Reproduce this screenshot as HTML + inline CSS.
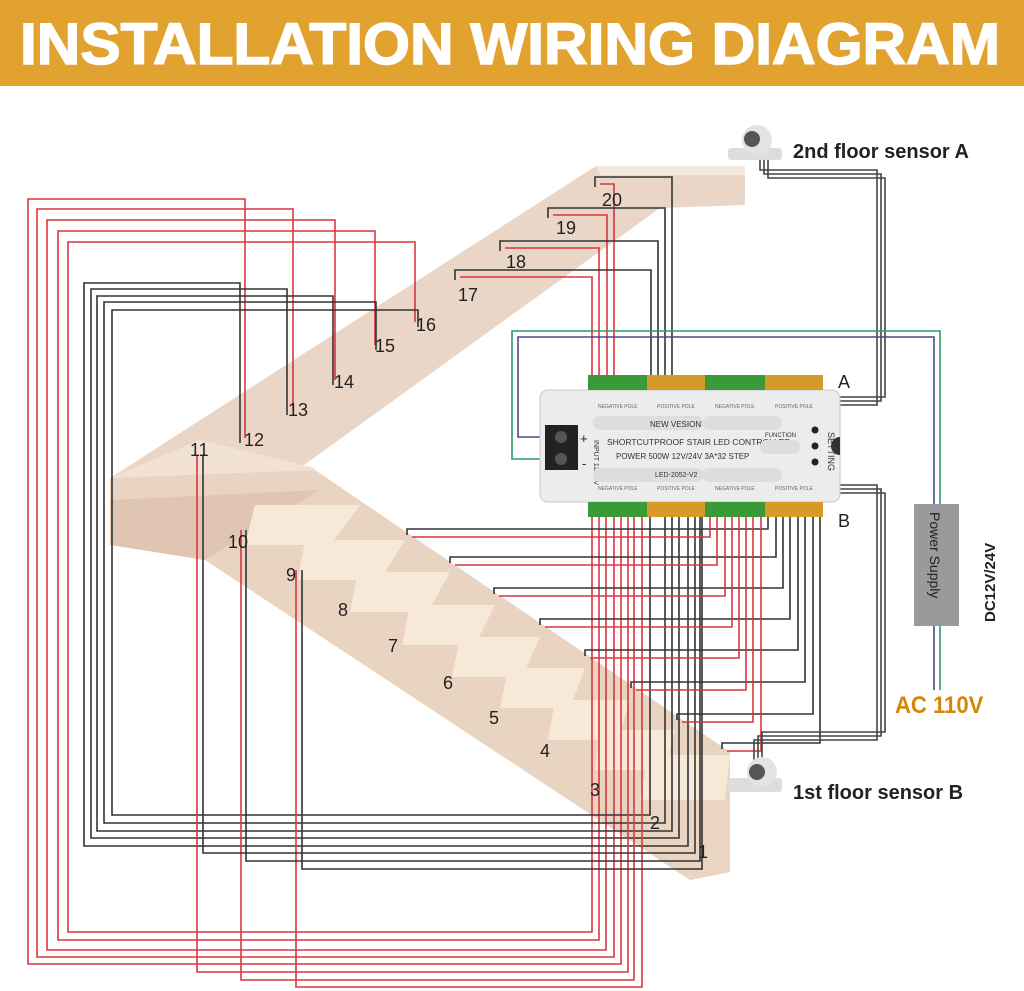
<!DOCTYPE html>
<html><head><meta charset="utf-8"><style>
html,body{margin:0;padding:0;background:#fff;width:1024px;height:991px;overflow:hidden}
svg{display:block}
</style></head><body>
<svg width="1024" height="991" viewBox="0 0 1024 991" xmlns="http://www.w3.org/2000/svg" font-family="Liberation Sans, sans-serif">
<rect x="0" y="0" width="1024" height="86" fill="#e2a230"/>
<text x="20" y="64" font-size="58" font-weight="bold" fill="#fff" textLength="980" lengthAdjust="spacingAndGlyphs" stroke="#fff" stroke-width="1.5">INSTALLATION WIRING DIAGRAM</text>

<!-- staircase -->
<g>
<polygon points="110,478 596,166 745,166 745,205 660,208 300,468 110,545" fill="#ead6c6"/>
<polygon points="596,166 745,166 745,175 600,175" fill="#f3e8de"/>
<polygon points="110,478 200,440 315,468 315,478 110,490" fill="#f1e2d4"/>
<polygon points="110,478 315,470 730,752 730,872 690,880 205,560 110,545" fill="#e9d3c1"/>
<polygon points="205,560 110,545 110,500 320,490" fill="#e0c6b2"/>
<g fill="#f6e9d8">
<polygon points="255,505 360,505 330,545 245,545"/>
<polygon points="305,540 405,540 380,580 298,580"/>
<polygon points="358,572 450,572 428,612 350,612"/>
<polygon points="410,605 495,605 475,645 402,645"/>
<polygon points="460,637 540,637 522,677 452,677"/>
<polygon points="508,668 585,668 570,708 500,708"/>
<polygon points="555,700 630,700 618,740 548,740"/>
<polygon points="600,730 675,730 665,770 595,770"/>
<polygon points="648,755 730,755 725,800 640,800"/>
</g>
<polygon points="640,800 730,800 730,872 690,880 620,820" fill="#ead5c2"/>
</g>

<g id="wires" fill="none" stroke-width="1.6"></g>

<!-- controller -->
<g>
<rect x="540" y="390" width="300" height="112" rx="8" fill="#ececec" stroke="#c8c8c8"/>
<rect x="545" y="425" width="33" height="45" fill="#222"/>
<circle cx="561" cy="437" r="6" fill="#555"/><circle cx="561" cy="459" r="6" fill="#555"/>
<text x="580" y="443" font-size="13" fill="#222">+</text>
<text x="582" y="468" font-size="13" fill="#222">-</text>
<text x="594" y="440" font-size="7" fill="#333" transform="rotate(90 594 440)">INPUT 12/24V</text>
<rect x="588" y="375" width="59" height="15" fill="#3a9a3a"/><rect x="647" y="375" width="58" height="15" fill="#d49a2a"/>
<rect x="705" y="375" width="60" height="15" fill="#3a9a3a"/><rect x="765" y="375" width="58" height="15" fill="#d49a2a"/>
<rect x="588" y="502" width="59" height="15" fill="#3a9a3a"/><rect x="647" y="502" width="58" height="15" fill="#d49a2a"/>
<rect x="705" y="502" width="60" height="15" fill="#3a9a3a"/><rect x="765" y="502" width="58" height="15" fill="#d49a2a"/>
<rect x="593" y="416" width="110" height="14" rx="7" fill="#ddd"/><rect x="702" y="416" width="80" height="14" rx="7" fill="#ddd"/>
<rect x="593" y="468" width="110" height="14" rx="7" fill="#ddd"/><rect x="702" y="468" width="80" height="14" rx="7" fill="#ddd"/>
<text x="650" y="427" font-size="8" fill="#333">NEW VESION</text>
<text x="607" y="445" font-size="8.5" fill="#333">SHORTCUTPROOF STAIR LED CONTROLLER</text>
<text x="616" y="459" font-size="8" fill="#333">POWER 500W 12V/24V 3A*32 STEP</text>
<text x="655" y="477" font-size="7" fill="#333">LED-2052-V2</text>
<text x="765" y="437" font-size="6" fill="#333">FUNCTION</text>
<rect x="760" y="440" width="40" height="14" rx="7" fill="#ddd"/>
<circle cx="815" cy="430" r="3.5" fill="#222"/><circle cx="815" cy="446" r="3.5" fill="#222"/><circle cx="815" cy="462" r="3.5" fill="#222"/>
<text x="828" y="432" font-size="9" fill="#333" transform="rotate(90 828 432)">SETTING</text>
<path d="M840,437 a8,8 0 0 0 0,18 z" fill="#333"/>
<g font-size="5" fill="#666"><text x="598" y="408">NEGATIVE POLE</text><text x="657" y="408">POSITIVE POLE</text><text x="715" y="408">NEGATIVE POLE</text><text x="775" y="408">POSITIVE POLE</text>
<text x="598" y="490">NEGATIVE POLE</text><text x="657" y="490">POSITIVE POLE</text><text x="715" y="490">NEGATIVE POLE</text><text x="775" y="490">POSITIVE POLE</text></g>
</g>

<!-- power supply -->
<rect x="914" y="504" width="45" height="122" fill="#9a9a9a"/>
<text x="930" y="512" font-size="14" fill="#222" transform="rotate(90 930 512)">Power Supply</text>
<text x="995" y="622" font-size="15" font-weight="bold" fill="#222" transform="rotate(-90 995 622)">DC12V/24V</text>
<text x="895" y="713" font-size="24" font-weight="bold" fill="#d4860b" transform="scale(0.92 1)" style="transform-origin:895px 713px">AC 110V</text>

<!-- sensors -->
<g><rect x="728" y="148" width="54" height="12" rx="3" fill="#ddd"/><circle cx="757" cy="140" r="15" fill="#e3e3e3"/><circle cx="752" cy="139" r="8" fill="#555"/></g>
<g><rect x="728" y="778" width="54" height="14" rx="3" fill="#ddd"/><circle cx="762" cy="772" r="15" fill="#e3e3e3"/><circle cx="757" cy="772" r="8" fill="#555"/></g>
<text x="793" y="158" font-size="20" font-weight="bold" fill="#222">2nd floor sensor A</text>
<text x="793" y="799" font-size="20" fill="#222" font-weight="bold">1st floor sensor B</text>
<text x="838" y="388" font-size="18" fill="#222">A</text>
<text x="838" y="527" font-size="18" fill="#222">B</text>

<g font-size="18" fill="#222">
<text x="602" y="206">20</text><text x="556" y="234">19</text><text x="506" y="268">18</text><text x="458" y="301">17</text>
<text x="416" y="331">16</text><text x="375" y="352">15</text><text x="334" y="388">14</text><text x="288" y="416">13</text>
<text x="244" y="446">12</text><text x="190" y="456">11</text><text x="228" y="548">10</text><text x="286" y="581">9</text>
<text x="338" y="616">8</text><text x="388" y="652">7</text><text x="443" y="689">6</text><text x="489" y="724">5</text>
<text x="540" y="757">4</text><text x="590" y="796">3</text><text x="650" y="829">2</text><text x="698" y="858">1</text>
</g>
</svg>
<script>
var g=document.getElementById('wires'),h='';
function P(pts,c){h+='<polyline points="'+pts.join(' ')+'" stroke="'+c+'"/>';}
var R='#d9363e',K='#333';
var rx=[28,37,47,58,68],ry=[199,209,220,231,242],rxe=[245,293,335,375,415],rsy=[438,410,380,345,322],rb=[964,957,950,940,932],rr=[621,614,606,599,592];
for(var i=0;i<5;i++){P([rxe[i]+','+rsy[i],rxe[i]+','+ry[i],rx[i]+','+ry[i],rx[i]+','+rb[i],rr[i]+','+rb[i],rr[i]+',517'],R);}
var kx=[84,91,97,104,112],ky=[283,289,296,302,310],kxe=[240,287,333,376,418],kb=[846,838,831,823,815],kr=[688,679,672,665,650];
for(i=0;i<5;i++){P([kxe[i]+','+(rsy[i]+5),kxe[i]+','+ky[i],kx[i]+','+ky[i],kx[i]+','+kb[i],kr[i]+','+kb[i],kr[i]+',517'],K);}
P(['197,455','197,972','628,972','628,517'],R);P(['241,530','241,980','634,980','634,517'],R);P(['296,570','296,987','642,987','642,517'],R);
P(['203,455','203,853','695,853','695,517'],K);P(['246,530','246,861','700,861','700,517'],K);P(['302,570','302,869','702,869','702,517'],K);
var sx=[407,450,494,540,585,631,677,722],sy=[529,557,588,619,650,682,714,743],kR=[768,776,783,790,798,805,813,820],rR=[710,717,725,732,739,746,753,761];
for(i=0;i<8;i++){P([sx[i]+','+(sy[i]+6),sx[i]+','+sy[i],kR[i]+','+sy[i],kR[i]+',517'],K);P([(sx[i]+5)+','+(sy[i]+8),rR[i]+','+(sy[i]+8),rR[i]+',517'],R);}
var ux=[595,548,500,455],uy=[177,208,241,270],uk=[672,665,658,651],ur=[614,607,599,592];
for(i=0;i<4;i++){P([ux[i]+','+(uy[i]+10),ux[i]+','+uy[i],uk[i]+','+uy[i],uk[i]+',375'],K);P([(ux[i]+5)+','+(uy[i]+7),ur[i]+','+(uy[i]+7),ur[i]+',375'],R);}
for(i=0;i<3;i++){var d=i*4;P([(760+d)+',160',(760+d)+','+(170+d),(877+d)+','+(170+d),(877+d)+','+(405-d),(840)+','+(405-d)],'#444');
P([(754+d)+',790',(754+d)+','+(740-d),(877+d)+','+(740-d),(877+d)+','+(485+d),840+','+(485+d)],'#444');}
P(['545,437','518,437','518,337','934,337','934,504'],'#4a4a8a');P(['545,459','512,459','512,331','940,331','940,504'],'#2a9a6a');
P(['934,626','934,690'],'#4a4a8a');P(['940,626','940,690'],'#2a9a6a');
g.innerHTML=h;
</script>
</body></html>
